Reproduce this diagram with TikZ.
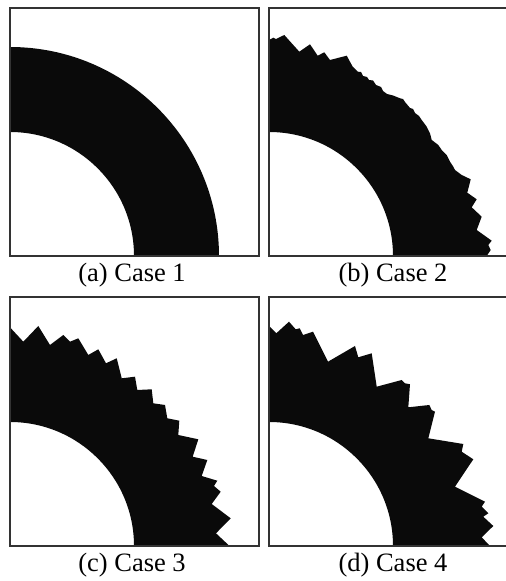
\documentclass[tikz,border=0pt]{standalone}
\usepackage{fontspec}
\setmainfont{Liberation Serif}
\usepackage{tikz}

\begin{document}
\begin{tikzpicture}[x=1pt,y=1pt,
    frame/.style={line width=1.2pt, draw=black!80},
    solid/.style={fill=black!96},
    caption/.style={anchor=base, font=\fontsize{26.5}{30}\selectfont}]
    \useasboundingbox (0,0) rectangle (506,581);

    % (a) smooth ring
    \begin{scope}[shift={(10,325)}]
        \fill[solid] (209,0) arc[start angle=0, end angle=90, radius=209]
            -- (0,124) arc[start angle=90, end angle=0, radius=124] -- cycle;
        \draw[frame] (0,0) rectangle (249,248);
    \end{scope}
    \node[caption] (capA) at (132,299.5) {(a) Case 1};

    % (b) fine teeth
    \begin{scope}[shift={(269,325)}]
        \fill[solid] (0,216) -- (4.3,218.3) -- (7,217) -- (15.3,221) -- (30.3,204.3)
            -- (41,211.7) -- (48.7,200.3) -- (55.3,203.7) -- (61,196) -- (77.7,200.3)
            -- (83.7,189.3) -- (88.7,184.3) -- (92,184) -- (94,180) -- (98,179)
            -- (100,176) -- (104,175.5) -- (107,171) -- (112,169) -- (114,165)
            -- (118,162) -- (124,160.5) -- (131,157.7) -- (134,157) -- (136,154)
            -- (141,148) -- (144,147) -- (146,143) -- (150,140) -- (152.7,136)
            -- (157.7,129.3) -- (161,122.7) -- (162.7,116) -- (164.5,114.7)
            -- (169.3,111) -- (172.7,106) -- (176,102.7) -- (177.7,101) -- (181,94.3)
            -- (184.3,89.3) -- (186,86) -- (192.7,81) -- (201.7,76.7) -- (198.3,63.3)
            -- (207.7,56.7) -- (202.7,48.7) -- (212.7,39.3) -- (207.7,26) -- (222.7,15.3)
            -- (219.3,11) -- (221.7,6) -- (217.7,0)
            -- (124,0) arc[start angle=0, end angle=90, radius=124] -- cycle;
        \draw[frame] (237,0) -- (0,0) -- (0,248) -- (237,248);
    \end{scope}
    \node[caption] (capB) at (393,299.5) {(b) Case 2};

    % (c) regular teeth
    \begin{scope}[shift={(10,35)}]
        \fill[solid] (0,218.7) -- (13.3,204.3) -- (28.3,220) -- (40,201) -- (53.3,211)
            -- (60,204.3) -- (68.3,207.7) -- (78.3,191) -- (88.3,196.7) -- (96,182.7)
            -- (106.7,187.7) -- (111.7,167.7) -- (125,169.3) -- (127.3,156) -- (141.7,156.7)
            -- (143.3,142.7) -- (155,141) -- (157.3,127.7) -- (169.3,125.3) -- (168.3,111)
            -- (188.3,106.7) -- (182.7,89.3) -- (197.3,86) -- (191.7,70) -- (207.3,65.3)
            -- (204,60) -- (210.7,54.3) -- (201.7,42) -- (220.7,27.7) -- (206,12.7)
            -- (219.5,0)
            -- (124,0) arc[start angle=0, end angle=90, radius=124] -- cycle;
        \draw[frame] (0,0) rectangle (249,249);
    \end{scope}
    \node[caption] (capC) at (132,9.5) {(c) Case 3};

    % (d) coarse teeth
    \begin{scope}[shift={(269,35)}]
        \fill[solid] (0,220) -- (7.3,212.7) -- (20,224.3) -- (26.7,216.7) -- (30.7,217.7)
            -- (34,211) -- (44,214.3) -- (59,184.3) -- (86,200) -- (89.3,188.7)
            -- (102.7,192.7) -- (107.7,159.3) -- (132.7,166) -- (136,162.7) -- (141,161.7)
            -- (139.3,138.7) -- (160.3,141) -- (162.7,136) -- (166,134.3) -- (159.3,107.7)
            -- (194.3,102) -- (192.7,94.3) -- (204.3,86.7) -- (186,59.3) -- (216,44.3)
            -- (212.7,39.3) -- (219.3,32.7) -- (214.3,29.3) -- (224.3,20) -- (212.7,8.7)
            -- (221,0)
            -- (124,0) arc[start angle=0, end angle=90, radius=124] -- cycle;
        \draw[frame] (237,0) -- (0,0) -- (0,249) -- (237,249);
    \end{scope}
    \node[caption] (capD) at (393,9.5) {(d) Case 4};
\end{tikzpicture}
\end{document}
